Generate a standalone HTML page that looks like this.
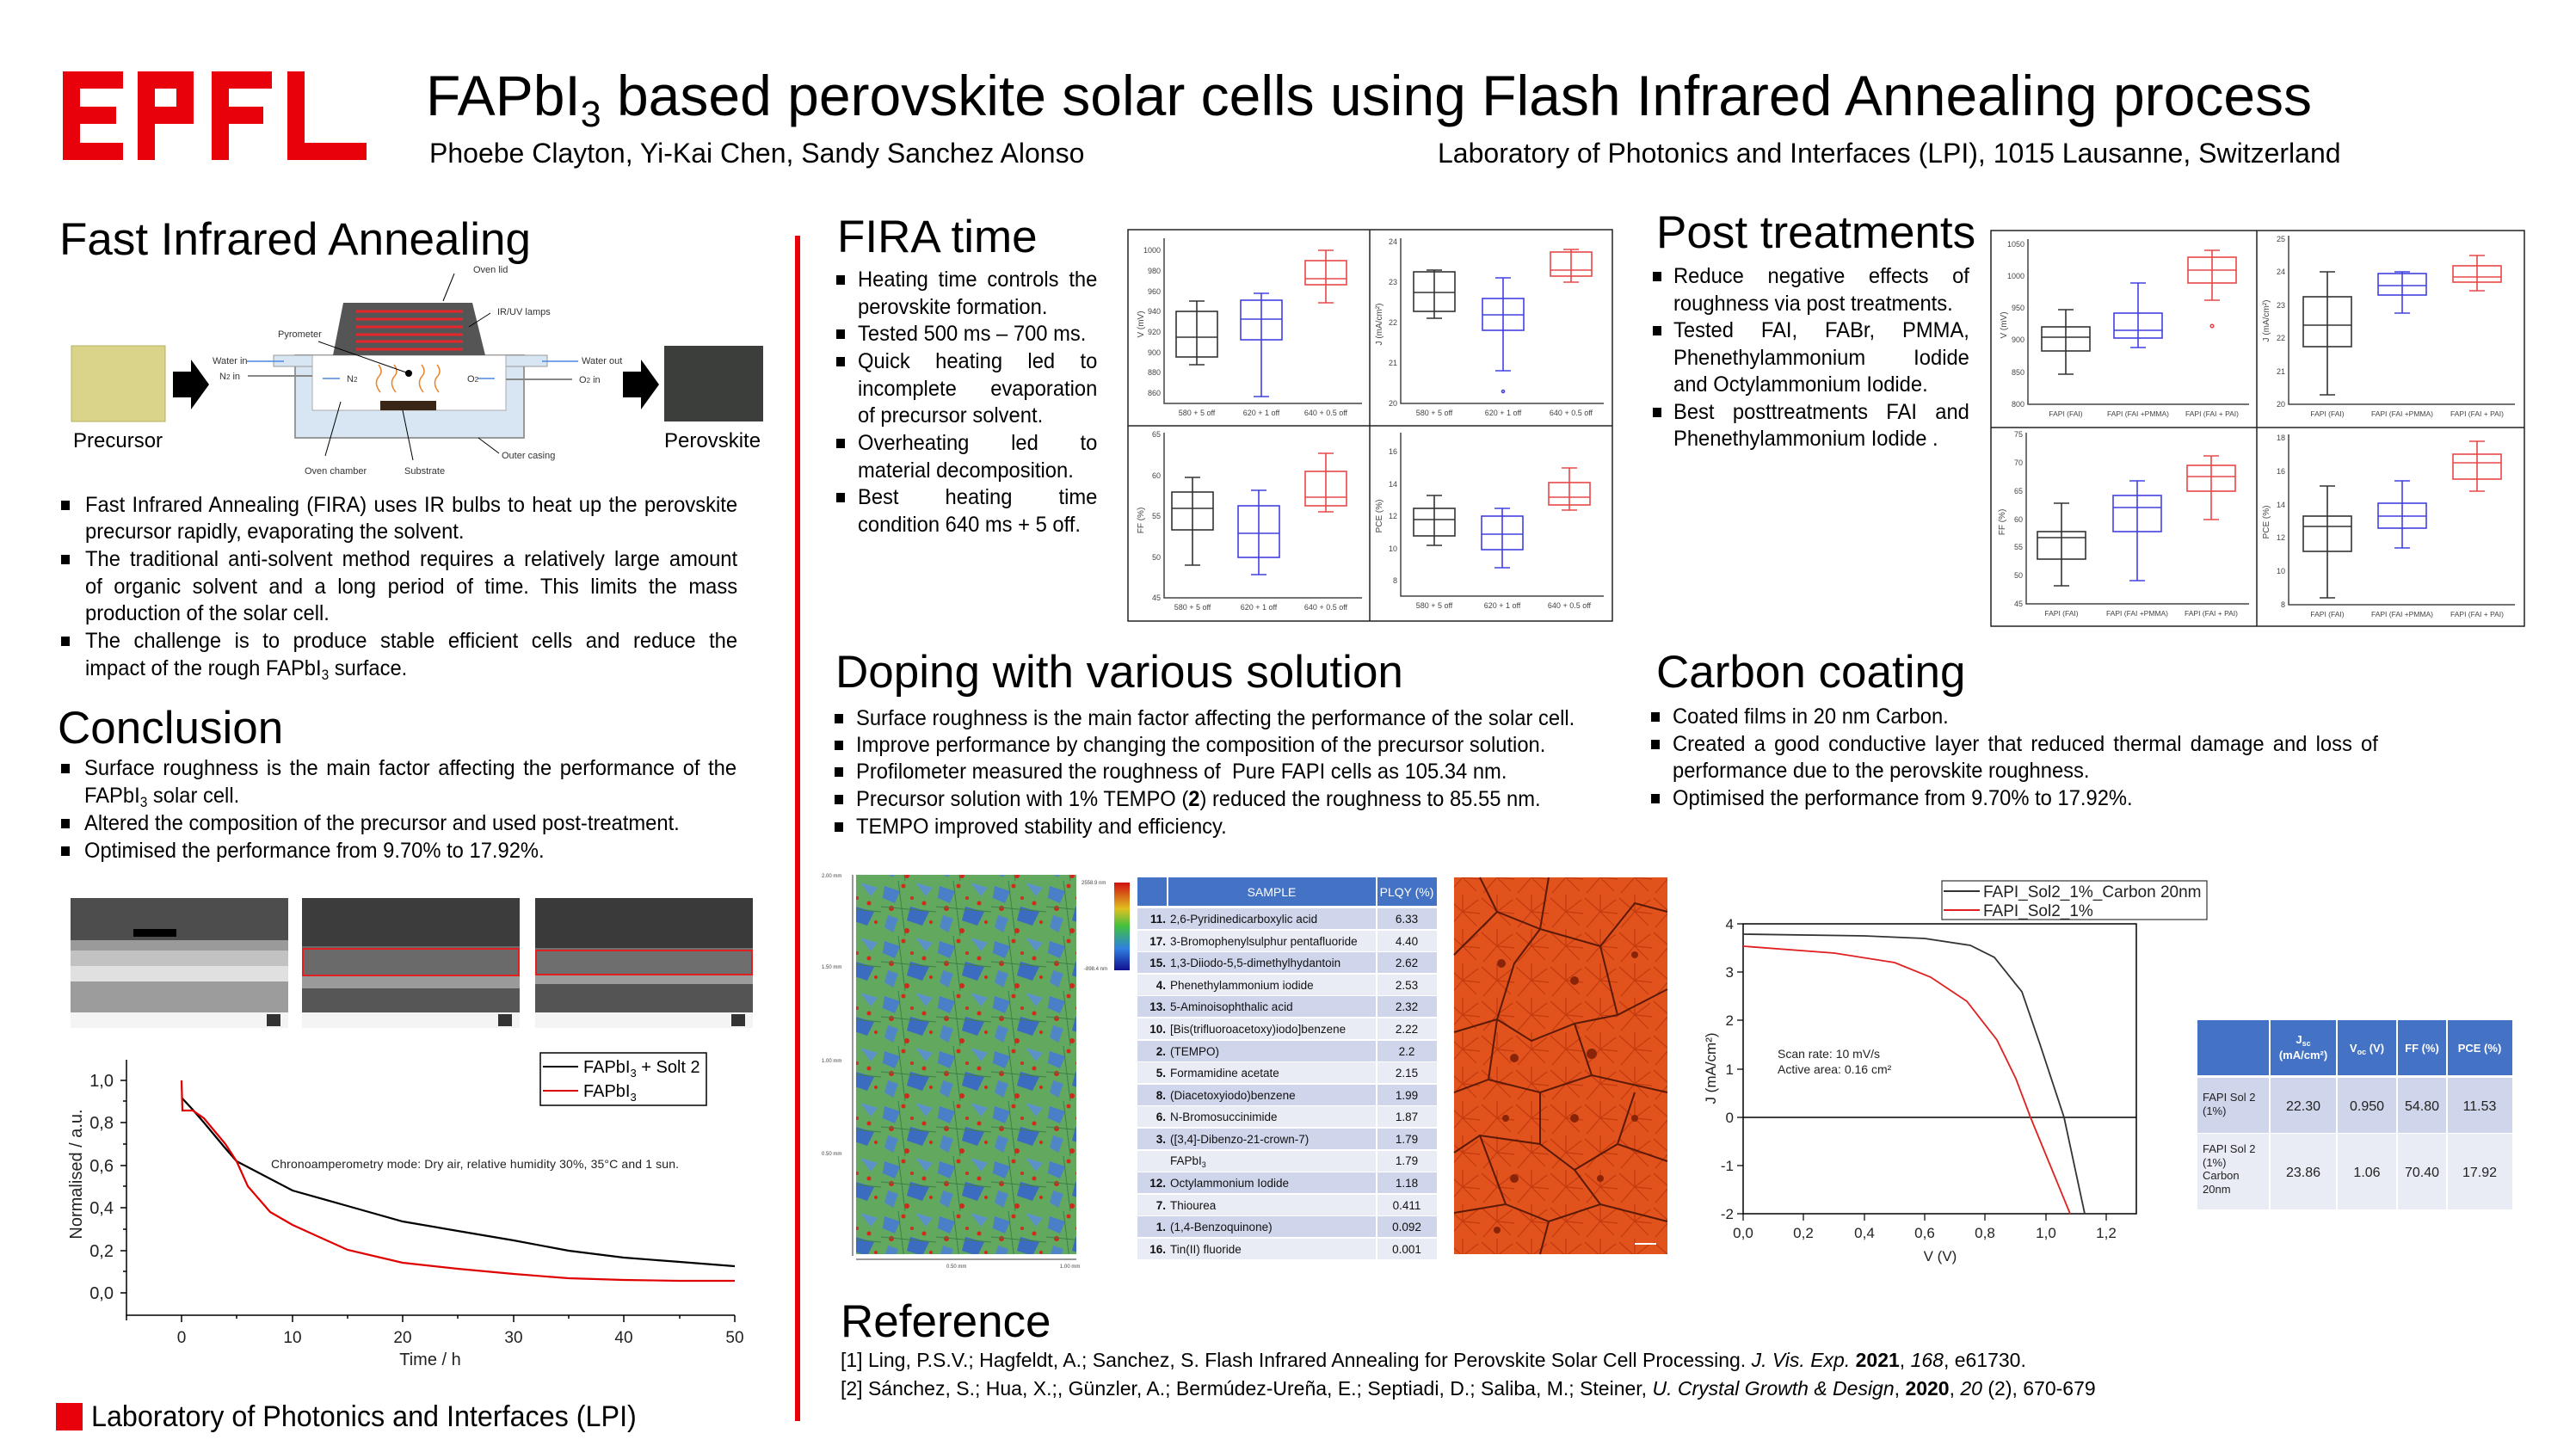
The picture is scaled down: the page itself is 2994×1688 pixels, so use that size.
<!DOCTYPE html>
<html><head><meta charset="utf-8">
<style>
html,body{margin:0;padding:0;background:#fff;}
body{width:2994px;height:1688px;position:relative;overflow:hidden;font-family:"Liberation Sans",Arial,sans-serif;color:#000;}
.h{position:absolute;font-size:53px;line-height:1;white-space:nowrap;font-family:"Liberation Sans",sans-serif;}
.l{position:absolute;white-space:nowrap;font-size:25px;line-height:30px;height:30px;transform:scaleX(.95);transform-origin:0 0;font-family:"Liberation Sans",sans-serif;}
.j{text-align:justify;text-align-last:justify;}
.b{position:absolute;width:10px;height:11px;background:#000;}
sub{font-size:65%;vertical-align:-0.3em;line-height:0;}
svg{position:absolute;left:0;top:0;}
</style></head><body>
<svg width="2994" height="1688" viewBox="0 0 2994 1688" font-family="Liberation Sans, sans-serif">
<defs>
<linearGradient id="cb" x1="0" y1="0" x2="0" y2="1">
<stop offset="0" stop-color="#d01010"/><stop offset=".3" stop-color="#e0c020"/><stop offset=".5" stop-color="#40c040"/><stop offset=".75" stop-color="#3080e0"/><stop offset="1" stop-color="#101090"/></linearGradient>
<pattern id="afm" width="64" height="64" patternUnits="userSpaceOnUse">
<rect width="64" height="64" fill="#62a85e"/>
<polygon points="4,6 22,12 16,26 2,20" fill="#4a7fc8"/>
<polygon points="34,30 56,36 48,52 30,46" fill="#3c6cc0"/>
<polygon points="40,2 60,8 52,18" fill="#5b93c9"/>
<polygon points="8,40 20,44 14,60 4,54" fill="#4f86c6"/>
<circle cx="26" cy="6" r="2.5" fill="#d42a1a"/><circle cx="12" cy="32" r="3" fill="#cc2a1a"/>
<circle cx="50" cy="26" r="2.5" fill="#d42a1a"/><circle cx="30" cy="58" r="3" fill="#cc2a1a"/>
<circle cx="58" cy="48" r="2" fill="#d42a1a"/><circle cx="36" cy="20" r="2" fill="#c83020"/>
<path d="M0 30 L64 36 M20 0 L28 64" stroke="#3f7f48" stroke-width="1" fill="none"/>
</pattern>
<pattern id="org" width="40" height="40" patternUnits="userSpaceOnUse">
<rect width="40" height="40" fill="#e2521c"/>
<path d="M20 20 L2 4 M20 20 L38 6 M20 20 L36 36 M20 20 L4 38 M20 20 L20 0 M20 20 L40 22" stroke="#c23a10" stroke-width="1.2"/>
</pattern>
</defs>

<g fill="#e8000b">
<rect x="73" y="83" width="70" height="20"/><rect x="73" y="83" width="20" height="103"/><rect x="73" y="124" width="62" height="20"/><rect x="73" y="166" width="70" height="20"/>
<rect x="160" y="83" width="20" height="103"/><path d="M160 83 H225 V144 H160 V124 H205 V103 H160Z"/>
<rect x="246" y="83" width="20" height="103"/><rect x="246" y="83" width="70" height="20"/><rect x="246" y="124" width="60" height="20"/>
<rect x="334" y="83" width="20" height="103"/><rect x="334" y="166" width="92" height="20"/>
</g>

<rect x="924" y="274" width="6" height="1378" fill="#e8000b"/>
<rect x="65" y="1631" width="31" height="32" fill="#e8000b"/>

<rect x="83" y="402" width="109" height="88" fill="#d9d48a" stroke="#b8b060"/>
<rect x="772" y="402" width="115" height="88" fill="#3b3e3b"/>
<path d="M201 432 H222 V418 L243 447 L222 476 V462 H201Z" fill="#000"/>
<path d="M724 432 H745 V418 L766 447 L745 476 V462 H724Z" fill="#000"/>
<rect x="343" y="413" width="266" height="96" fill="#d8e6f4" stroke="#999" stroke-width="2"/>
<rect x="318" y="413" width="45" height="13" fill="#d8e6f4" stroke="#999"/>
<rect x="588" y="413" width="48" height="13" fill="#d8e6f4" stroke="#999"/>
<rect x="363" y="413" width="225" height="64" fill="#fff" stroke="#aaa"/>
<path d="M399 352 H549 L564 413 H387Z" fill="#555"/>
<g stroke="#e8262a" stroke-width="3"><line x1="414" y1="362" x2="538" y2="362"/><line x1="414" y1="371" x2="538" y2="371"/><line x1="414" y1="380" x2="538" y2="380"/><line x1="414" y1="389" x2="538" y2="389"/><line x1="414" y1="397" x2="538" y2="397"/><line x1="414" y1="406" x2="538" y2="406"/></g>
<rect x="442" y="466" width="65" height="11" fill="#3a2616"/>
<g stroke="#e8842a" stroke-width="1.5" fill="none"><path d="M440 424 q6 8 0 14 q-6 8 2 18"/><path d="M458 424 q6 8 0 14 q-6 8 2 18"/><path d="M490 424 q6 8 0 14 q-6 8 2 18"/><path d="M508 424 q6 8 0 14 q-6 8 2 18"/></g>
<circle cx="475" cy="434" r="4" fill="#000"/>
<line x1="370" y1="397" x2="475" y2="434" stroke="#000"/>
<g stroke="#4a88e0" stroke-width="1.5"><line x1="287" y1="420" x2="330" y2="420"/><line x1="630" y1="420" x2="672" y2="420"/><line x1="375" y1="440" x2="395" y2="440"/><line x1="555" y1="440" x2="575" y2="440"/></g>
<g stroke="#888" stroke-width="2"><line x1="288" y1="437" x2="363" y2="437"/><line x1="588" y1="441" x2="665" y2="441"/></g>
<g stroke="#000"><line x1="528" y1="318" x2="515" y2="350"/><line x1="570" y1="364" x2="545" y2="380"/><line x1="396" y1="467" x2="378" y2="530"/><line x1="468" y1="477" x2="480" y2="535"/><line x1="556" y1="509" x2="580" y2="527"/></g>
<g font-size="11" fill="#333">
<text x="550" y="317">Oven lid</text><text x="578" y="366">IR/UV lamps</text><text x="323" y="392">Pyrometer</text>
<text x="247" y="423">Water in</text><text x="255" y="441">N<tspan font-size="8">2</tspan> in</text>
<text x="676" y="423">Water out</text><text x="673" y="445">O<tspan font-size="8">2</tspan> in</text>
<text x="403" y="444">N<tspan font-size="8">2</tspan></text><text x="543" y="444">O<tspan font-size="8">2</tspan></text>
<text x="583" y="533">Outer casing</text><text x="354" y="551">Oven chamber</text><text x="470" y="551">Substrate</text>
</g>
<text x="85" y="520" font-size="24">Precursor</text>
<text x="772" y="520" font-size="24">Perovskite</text>

<g>
<rect x="82" y="1044" width="253" height="151" fill="#4d4d4d"/>
<rect x="82" y="1093" width="253" height="12" fill="#9a9a9a"/>
<rect x="82" y="1105" width="253" height="18" fill="#c2c2c2"/>
<rect x="82" y="1123" width="253" height="18" fill="#e0e0e0"/>
<rect x="82" y="1141" width="253" height="36" fill="#9c9c9c"/>
<rect x="82" y="1177" width="253" height="18" fill="#f4f4f4"/>
<rect x="155" y="1080" width="50" height="9" fill="#000"/>
<rect x="351" y="1044" width="253" height="151" fill="#3c3c3c"/>
<rect x="351" y="1100" width="253" height="35" fill="#6a6a6a"/>
<rect x="351" y="1135" width="253" height="14" fill="#9a9a9a"/>
<rect x="351" y="1149" width="253" height="28" fill="#565656"/>
<rect x="351" y="1177" width="253" height="18" fill="#f4f4f4"/>
<rect x="352" y="1103" width="251" height="31" fill="none" stroke="#e02020" stroke-width="2"/>
<rect x="622" y="1044" width="253" height="151" fill="#3a3a3a"/>
<rect x="622" y="1102" width="253" height="32" fill="#6e6e6e"/>
<rect x="622" y="1134" width="253" height="10" fill="#9c9c9c"/>
<rect x="622" y="1144" width="253" height="33" fill="#545454"/>
<rect x="622" y="1177" width="253" height="18" fill="#f4f4f4"/>
<rect x="623" y="1105" width="251" height="28" fill="none" stroke="#e02020" stroke-width="2"/>
<g fill="#333"><rect x="310" y="1179" width="16" height="14"/><rect x="579" y="1179" width="16" height="14"/><rect x="850" y="1179" width="16" height="14"/></g>
</g>

<g stroke="#000" stroke-width="1.5" fill="none">
<path d="M147 1232 V1529 H854"/>
<path d="M140 1256 H147 M140 1305 H147 M140 1355 H147 M140 1404 H147 M140 1454 H147 M140 1503 H147 M143 1280 H147 M143 1330 H147 M143 1379 H147 M143 1429 H147 M143 1478 H147"/>
<path d="M211 1529 V1537 M340 1529 V1537 M468 1529 V1537 M597 1529 V1537 M725 1529 V1537 M854 1529 V1537 M147 1529 V1535 M275 1529 V1533 M404 1529 V1533 M532 1529 V1533 M661 1529 V1533 M790 1529 V1533"/>
</g>
<polyline fill="none" stroke="#000" stroke-width="2.2" points="211,1276 224,1290 237,1305 262,1335 275,1350 340,1384 404,1402 468,1420 532,1431 597,1442 661,1454 725,1462 790,1467 854,1472"/>
<polyline fill="none" stroke="#e00000" stroke-width="2.2" points="211,1256 212,1291 224,1291 237,1300 262,1330 275,1350 288,1379 314,1409 340,1424 404,1453 468,1468 532,1475 597,1481 661,1486 725,1488 790,1489 854,1489"/>
<g font-size="20" fill="#222" text-anchor="end">
<text x="132" y="1263">1,0</text><text x="132" y="1312">0,8</text><text x="132" y="1362">0,6</text><text x="132" y="1411">0,4</text><text x="132" y="1461">0,2</text><text x="132" y="1510">0,0</text></g>
<g font-size="19" fill="#222" text-anchor="middle">
<text x="211" y="1561">0</text><text x="340" y="1561">10</text><text x="468" y="1561">20</text><text x="597" y="1561">30</text><text x="725" y="1561">40</text><text x="854" y="1561">50</text>
<text x="500" y="1587" font-size="20">Time / h</text></g>
<text transform="translate(95,1365) rotate(-90)" font-size="20" text-anchor="middle" fill="#222">Normalised / a.u.</text>
<text x="315" y="1358" font-size="14" fill="#222" textLength="474">Chronoamperometry mode: Dry air, relative humidity 30%, 35°C and 1 sun.</text>
<rect x="628" y="1224" width="193" height="61" fill="#fff" stroke="#000" stroke-width="1.5"/>
<line x1="631" y1="1240" x2="672" y2="1240" stroke="#000" stroke-width="2"/>
<line x1="631" y1="1268" x2="672" y2="1268" stroke="#e00000" stroke-width="2"/>
<text x="678" y="1247" font-size="20">FAPbI<tspan font-size="13" dy="5">3</tspan><tspan dy="-5"> + Solt 2</tspan></text>
<text x="678" y="1275" font-size="20">FAPbI<tspan font-size="13" dy="5">3</tspan></text>

<g fill="none" stroke="#222" stroke-width="1.5">
<rect x="1311" y="267" width="563" height="455"/>
<line x1="1592" y1="267" x2="1592" y2="722"/><line x1="1311" y1="495" x2="1874" y2="495"/>
</g>
<g transform="translate(1311,267)">
<path d="M42 10 V202 H272" fill="none" stroke="#444" stroke-width="1.5"/>
<g font-size="9" fill="#444" text-anchor="end"><text x="38" y="27">1000</text><text x="38" y="51">980</text><text x="38" y="75">960</text><text x="38" y="98">940</text><text x="38" y="122">920</text><text x="38" y="146">900</text><text x="38" y="169">880</text><text x="38" y="193">860</text></g>
<g font-size="9" fill="#444" text-anchor="middle"><text x="80" y="216">580 + 5 off</text><text x="155" y="216">620 + 1 off</text><text x="230" y="216">640 + 0.5 off</text></g>
<text transform="translate(18,110) rotate(-90)" font-size="10" fill="#444" text-anchor="middle">V (mV)</text>
<g fill="none" stroke-width="1.6">
<g stroke="#333"><path d="M80 83 V157 M71 83 H89 M71 157 H89 M56 125 H104"/><rect x="56" y="95" width="48" height="53"/></g>
<g stroke="#4040e0"><path d="M155 74 V194 M146 74 H164 M146 194 H164 M131 104 H179"/><rect x="131" y="82" width="48" height="46"/></g>
<g stroke="#e84848"><path d="M230 24 V85 M221 24 H239 M221 85 H239 M206 57 H254"/><rect x="206" y="36" width="48" height="28"/></g>
</g></g>
<g transform="translate(1592,267)">
<path d="M36 10 V202 H272" fill="none" stroke="#444" stroke-width="1.5"/>
<g font-size="9" fill="#444" text-anchor="end"><text x="32" y="17">24</text><text x="32" y="64">23</text><text x="32" y="111">22</text><text x="32" y="158">21</text><text x="32" y="205">20</text></g>
<g font-size="9" fill="#444" text-anchor="middle"><text x="75" y="216">580 + 5 off</text><text x="155" y="216">620 + 1 off</text><text x="234" y="216">640 + 0.5 off</text></g>
<text transform="translate(14,110) rotate(-90)" font-size="10" fill="#444" text-anchor="middle">J (mA/cm²)</text>
<g fill="none" stroke-width="1.6">
<g stroke="#333"><path d="M75 47 V103 M66 47 H84 M66 103 H84 M51 73 H99"/><rect x="51" y="49" width="48" height="46"/></g>
<g stroke="#4040e0"><path d="M155 56 V164 M146 56 H164 M146 164 H164 M131 99 H179"/><rect x="131" y="80" width="48" height="37"/><circle cx="155" cy="188" r="1.5"/></g>
<g stroke="#e84848"><path d="M234 23 V61 M225 23 H243 M225 61 H243 M210 47 H258"/><rect x="210" y="26" width="48" height="28"/></g>
</g></g>
<g transform="translate(1311,495)">
<path d="M42 8 V200 H272" fill="none" stroke="#444" stroke-width="1.5"/>
<g font-size="9" fill="#444" text-anchor="end"><text x="38" y="13">65</text><text x="38" y="61">60</text><text x="38" y="108">55</text><text x="38" y="156">50</text><text x="38" y="203">45</text></g>
<g font-size="9" fill="#444" text-anchor="middle"><text x="75" y="214">580 + 5 off</text><text x="152" y="214">620 + 1 off</text><text x="230" y="214">640 + 0.5 off</text></g>
<text transform="translate(18,110) rotate(-90)" font-size="10" fill="#444" text-anchor="middle">FF (%)</text>
<g fill="none" stroke-width="1.6">
<g stroke="#333"><path d="M75 60 V162 M66 60 H84 M66 162 H84 M51 96 H99"/><rect x="51" y="77" width="48" height="44"/></g>
<g stroke="#4040e0"><path d="M152 75 V173 M143 75 H161 M143 173 H161 M128 125 H176"/><rect x="128" y="93" width="48" height="60"/></g>
<g stroke="#e84848"><path d="M230 32 V100 M221 32 H239 M221 100 H239 M206 83 H254"/><rect x="206" y="53" width="48" height="40"/></g>
</g></g>
<g transform="translate(1592,495)">
<path d="M36 8 V198 H272" fill="none" stroke="#444" stroke-width="1.5"/>
<g font-size="9" fill="#444" text-anchor="end"><text x="32" y="33">16</text><text x="32" y="71">14</text><text x="32" y="108">12</text><text x="32" y="146">10</text><text x="32" y="183">8</text></g>
<g font-size="9" fill="#444" text-anchor="middle"><text x="75" y="212">580 + 5 off</text><text x="154" y="212">620 + 1 off</text><text x="232" y="212">640 + 0.5 off</text></g>
<text transform="translate(14,105) rotate(-90)" font-size="10" fill="#444" text-anchor="middle">PCE (%)</text>
<g fill="none" stroke-width="1.6">
<g stroke="#333"><path d="M75 81 V139 M66 81 H84 M66 139 H84 M51 109 H99"/><rect x="51" y="96" width="48" height="32"/></g>
<g stroke="#4040e0"><path d="M154 96 V165 M145 96 H163 M145 165 H163 M130 126 H178"/><rect x="130" y="105" width="48" height="39"/></g>
<g stroke="#e84848"><path d="M232 49 V98 M223 49 H241 M223 98 H241 M208 83 H256"/><rect x="208" y="66" width="48" height="26"/></g>
</g></g>

<g fill="none" stroke="#222" stroke-width="1.5">
<rect x="2314" y="268" width="620" height="460"/>
<line x1="2623" y1="268" x2="2623" y2="728"/><line x1="2314" y1="497" x2="2934" y2="497"/>
</g>
<g transform="translate(2314,268)">
<path d="M43 10 V202 H300" fill="none" stroke="#444" stroke-width="1.5"/>
<g font-size="9" fill="#444" text-anchor="end"><text x="39" y="19">1050</text><text x="39" y="56">1000</text><text x="39" y="93">950</text><text x="39" y="130">900</text><text x="39" y="168">850</text><text x="39" y="205">800</text></g>
<g font-size="8.5" fill="#444" text-anchor="middle"><text x="87" y="216">FAPI (FAI)</text><text x="171" y="216">FAPI (FAI +PMMA)</text><text x="257" y="216">FAPI (FAI + PAI)</text></g>
<text transform="translate(18,110) rotate(-90)" font-size="10" fill="#444" text-anchor="middle">V (mV)</text>
<g fill="none" stroke-width="1.6">
<g stroke="#333"><path d="M87 92 V167 M78 92 H96 M78 167 H96 M59 124 H115"/><rect x="59" y="112" width="56" height="28"/></g>
<g stroke="#4040e0"><path d="M171 61 V136 M162 61 H180 M162 136 H180 M143 116 H199"/><rect x="143" y="96" width="56" height="29"/></g>
<g stroke="#e84848"><path d="M257 23 V81 M248 23 H266 M248 81 H266 M229 46 H285"/><rect x="229" y="31" width="56" height="30"/><circle cx="257" cy="111" r="1.8"/></g>
</g></g>
<g transform="translate(2623,268)">
<path d="M37 6 V202 H300" fill="none" stroke="#444" stroke-width="1.5"/>
<g font-size="9" fill="#444" text-anchor="end"><text x="33" y="13">25</text><text x="33" y="51">24</text><text x="33" y="90">23</text><text x="33" y="128">22</text><text x="33" y="167">21</text><text x="33" y="205">20</text></g>
<g font-size="8.5" fill="#444" text-anchor="middle"><text x="82" y="216">FAPI (FAI)</text><text x="169" y="216">FAPI (FAI +PMMA)</text><text x="256" y="216">FAPI (FAI + PAI)</text></g>
<text transform="translate(14,105) rotate(-90)" font-size="10" fill="#444" text-anchor="middle">J (mA/cm²)</text>
<g fill="none" stroke-width="1.6">
<g stroke="#333"><path d="M82 48 V191 M73 48 H91 M73 191 H91 M54 110 H110"/><rect x="54" y="77" width="56" height="58"/></g>
<g stroke="#4040e0"><path d="M169 48 V96 M160 48 H178 M160 96 H178 M141 64 H197"/><rect x="141" y="50" width="56" height="25"/></g>
<g stroke="#e84848"><path d="M256 29 V70 M247 29 H265 M247 70 H265 M228 54 H284"/><rect x="228" y="41" width="56" height="19"/></g>
</g></g>
<g transform="translate(2314,497)">
<path d="M41 6 V205 H300" fill="none" stroke="#444" stroke-width="1.5"/>
<g font-size="9" fill="#444" text-anchor="end"><text x="37" y="11">75</text><text x="37" y="44">70</text><text x="37" y="77">65</text><text x="37" y="110">60</text><text x="37" y="142">55</text><text x="37" y="175">50</text><text x="37" y="208">45</text></g>
<g font-size="8.5" fill="#444" text-anchor="middle"><text x="82" y="219">FAPI (FAI)</text><text x="170" y="219">FAPI (FAI +PMMA)</text><text x="256" y="219">FAPI (FAI + PAI)</text></g>
<text transform="translate(16,110) rotate(-90)" font-size="10" fill="#444" text-anchor="middle">FF (%)</text>
<g fill="none" stroke-width="1.6">
<g stroke="#333"><path d="M82 88 V184 M73 88 H91 M73 184 H91 M54 128 H110"/><rect x="54" y="121" width="56" height="32"/></g>
<g stroke="#4040e0"><path d="M170 62 V178 M161 62 H179 M161 178 H179 M142 93 H198"/><rect x="142" y="79" width="56" height="42"/></g>
<g stroke="#e84848"><path d="M256 33 V107 M247 33 H265 M247 107 H265 M228 57 H284"/><rect x="228" y="44" width="56" height="30"/></g>
</g></g>
<g transform="translate(2623,497)">
<path d="M37 8 V206 H300" fill="none" stroke="#444" stroke-width="1.5"/>
<g font-size="9" fill="#444" text-anchor="end"><text x="33" y="15">18</text><text x="33" y="54">16</text><text x="33" y="93">14</text><text x="33" y="131">12</text><text x="33" y="170">10</text><text x="33" y="209">8</text></g>
<g font-size="8.5" fill="#444" text-anchor="middle"><text x="82" y="220">FAPI (FAI)</text><text x="169" y="220">FAPI (FAI +PMMA)</text><text x="256" y="220">FAPI (FAI + PAI)</text></g>
<text transform="translate(14,110) rotate(-90)" font-size="10" fill="#444" text-anchor="middle">PCE (%)</text>
<g fill="none" stroke-width="1.6">
<g stroke="#333"><path d="M82 68 V198 M73 68 H91 M73 198 H91 M54 115 H110"/><rect x="54" y="103" width="56" height="41"/></g>
<g stroke="#4040e0"><path d="M169 62 V140 M160 62 H178 M160 140 H178 M141 103 H197"/><rect x="141" y="88" width="56" height="29"/></g>
<g stroke="#e84848"><path d="M256 16 V74 M247 16 H265 M247 74 H265 M228 41 H284"/><rect x="228" y="31" width="56" height="29"/></g>
</g></g>

<rect x="995" y="1017" width="256" height="441" fill="url(#afm)"/>
<g stroke="#333" stroke-width="1"><path d="M991 1017 V1460 M995 1464 H1251"/></g>
<g font-size="6" fill="#444"><text x="955" y="1020">2.00 mm</text><text x="955" y="1126">1.50 mm</text><text x="955" y="1235">1.00 mm</text><text x="955" y="1343">0.50 mm</text><text x="1100" y="1474">0.50 mm</text><text x="1232" y="1474">1.00 mm</text><text x="1257" y="1028">2558.9 nm</text><text x="1260" y="1128">-898.4 nm</text></g>
<rect x="1295" y="1026" width="18" height="102" fill="url(#cb)"/>

<rect x="1322" y="1020" width="348" height="33" fill="#4472c4"/>
<line x1="1357" y1="1020" x2="1357" y2="1053" stroke="#fff" stroke-width="2"/>
<line x1="1600" y1="1020" x2="1600" y2="1053" stroke="#fff" stroke-width="2"/>
<text x="1478" y="1042" font-size="14" fill="#fff" text-anchor="middle">SAMPLE</text>
<text x="1635" y="1042" font-size="14" fill="#fff" text-anchor="middle">PLQY (%)</text>
<g>
<rect x="1322" y="1056" width="348" height="24" fill="#cfd5ea"/>
<rect x="1322" y="1082" width="348" height="24" fill="#e9ebf5"/>
<rect x="1322" y="1107" width="348" height="24" fill="#cfd5ea"/>
<rect x="1322" y="1133" width="348" height="24" fill="#e9ebf5"/>
<rect x="1322" y="1158" width="348" height="24" fill="#cfd5ea"/>
<rect x="1322" y="1184" width="348" height="24" fill="#e9ebf5"/>
<rect x="1322" y="1210" width="348" height="24" fill="#cfd5ea"/>
<rect x="1322" y="1235" width="348" height="24" fill="#e9ebf5"/>
<rect x="1322" y="1261" width="348" height="24" fill="#cfd5ea"/>
<rect x="1322" y="1286" width="348" height="24" fill="#e9ebf5"/>
<rect x="1322" y="1312" width="348" height="24" fill="#cfd5ea"/>
<rect x="1322" y="1338" width="348" height="24" fill="#e9ebf5"/>
<rect x="1322" y="1363" width="348" height="24" fill="#cfd5ea"/>
<rect x="1322" y="1389" width="348" height="24" fill="#e9ebf5"/>
<rect x="1322" y="1414" width="348" height="24" fill="#cfd5ea"/>
<rect x="1322" y="1440" width="348" height="24" fill="#e9ebf5"/>
<line x1="1600" y1="1056" x2="1600" y2="1464" stroke="#fff" stroke-width="2"/>
</g>
<g font-size="13.5" fill="#111">
<g font-weight="bold" text-anchor="end"><text x="1355" y="1073">11.</text><text x="1355" y="1099">17.</text><text x="1355" y="1124">15.</text><text x="1355" y="1150">4.</text><text x="1355" y="1175">13.</text><text x="1355" y="1201">10.</text><text x="1355" y="1227">2.</text><text x="1355" y="1252">5.</text><text x="1355" y="1278">8.</text><text x="1355" y="1303">6.</text><text x="1355" y="1329">3.</text><text x="1355" y="1380">12.</text><text x="1355" y="1406">7.</text><text x="1355" y="1431">1.</text><text x="1355" y="1457">16.</text></g>
<g><text x="1360" y="1073">2,6-Pyridinedicarboxylic acid</text><text x="1360" y="1099">3-Bromophenylsulphur pentafluoride</text><text x="1360" y="1124">1,3-Diiodo-5,5-dimethylhydantoin</text><text x="1360" y="1150">Phenethylammonium iodide</text><text x="1360" y="1175">5-Aminoisophthalic acid</text><text x="1360" y="1201">[Bis(trifluoroacetoxy)iodo]benzene</text><text x="1360" y="1227">(TEMPO)</text><text x="1360" y="1252">Formamidine acetate</text><text x="1360" y="1278">(Diacetoxyiodo)benzene</text><text x="1360" y="1303">N-Bromosuccinimide</text><text x="1360" y="1329">([3,4]-Dibenzo-21-crown-7)</text><text x="1360" y="1354">FAPbI<tspan font-size="9" dy="3">3</tspan></text><text x="1360" y="1380">Octylammonium Iodide</text><text x="1360" y="1406">Thiourea</text><text x="1360" y="1431">(1,4-Benzoquinone)</text><text x="1360" y="1457">Tin(II) fluoride</text></g>
<g text-anchor="middle"><text x="1635" y="1073">6.33</text><text x="1635" y="1099">4.40</text><text x="1635" y="1124">2.62</text><text x="1635" y="1150">2.53</text><text x="1635" y="1175">2.32</text><text x="1635" y="1201">2.22</text><text x="1635" y="1227">2.2</text><text x="1635" y="1252">2.15</text><text x="1635" y="1278">1.99</text><text x="1635" y="1303">1.87</text><text x="1635" y="1329">1.79</text><text x="1635" y="1354">1.79</text><text x="1635" y="1380">1.18</text><text x="1635" y="1406">0.411</text><text x="1635" y="1431">0.092</text><text x="1635" y="1457">0.001</text></g>
</g>

<rect x="1690" y="1020" width="248" height="438" fill="url(#org)"/>
<g fill="none" stroke="#5a1a06" stroke-width="2">
<path d="M1690 1110 L1740 1060 L1790 1080 L1800 1020 M1790 1080 L1860 1100 L1900 1050 L1938 1060 M1740 1060 L1720 1020"/>
<path d="M1690 1200 L1740 1185 L1780 1210 L1830 1190 L1880 1180 L1938 1150 M1740 1185 L1760 1120 L1790 1080 M1860 1100 L1880 1180"/>
<path d="M1690 1270 L1730 1255 L1790 1270 L1850 1250 L1938 1270 M1730 1255 L1740 1185 M1850 1250 L1830 1190"/>
<path d="M1690 1340 L1720 1320 L1790 1330 L1830 1360 L1880 1330 L1938 1350 M1790 1330 L1790 1270 M1880 1330 L1900 1270"/>
<path d="M1690 1410 L1750 1400 L1800 1420 L1860 1400 L1938 1420 M1750 1400 L1720 1320 M1860 1400 L1830 1360 M1800 1420 L1790 1458"/>
</g>
<g fill="#8a2408"><circle cx="1745" cy="1120" r="5"/><circle cx="1830" cy="1140" r="5"/><circle cx="1900" cy="1110" r="4"/><circle cx="1760" cy="1230" r="5"/><circle cx="1850" cy="1225" r="6"/><circle cx="1750" cy="1300" r="4"/><circle cx="1830" cy="1300" r="5"/><circle cx="1900" cy="1300" r="4"/><circle cx="1760" cy="1370" r="5"/><circle cx="1860" cy="1370" r="4"/><circle cx="1740" cy="1430" r="4"/></g>
<line x1="1900" y1="1446" x2="1925" y2="1446" stroke="#fff" stroke-width="2"/>

<rect x="2026" y="1074" width="457" height="337" fill="none" stroke="#000" stroke-width="1.5"/>
<line x1="2026" y1="1299" x2="2483" y2="1299" stroke="#000" stroke-width="1.5"/>
<g stroke="#000" stroke-width="1.2"><path d="M2026 1411 V1419 M2096 1411 V1419 M2167 1411 V1419 M2237 1411 V1419 M2307 1411 V1419 M2378 1411 V1419 M2448 1411 V1419 M2019 1074 H2026 M2019 1130 H2026 M2019 1186 H2026 M2019 1243 H2026 M2019 1299 H2026 M2019 1355 H2026 M2019 1411 H2026"/></g>
<polyline fill="none" stroke="#333" stroke-width="1.8" points="2026,1086 2167,1088 2237,1091 2290,1099 2318,1113 2350,1153 2371,1214 2399,1299 2423,1411"/>
<polyline fill="none" stroke="#e02020" stroke-width="1.8" points="2026,1100 2132,1108 2202,1119 2244,1136 2286,1164 2321,1209 2343,1254 2360,1299 2406,1411"/>
<g font-size="17" fill="#222" text-anchor="end"><text x="2015" y="1080">4</text><text x="2015" y="1136">3</text><text x="2015" y="1192">2</text><text x="2015" y="1249">1</text><text x="2015" y="1305">0</text><text x="2015" y="1361">-1</text><text x="2015" y="1417">-2</text></g>
<g font-size="17" fill="#222" text-anchor="middle"><text x="2026" y="1439">0,0</text><text x="2096" y="1439">0,2</text><text x="2167" y="1439">0,4</text><text x="2237" y="1439">0,6</text><text x="2307" y="1439">0,8</text><text x="2378" y="1439">1,0</text><text x="2448" y="1439">1,2</text><text x="2255" y="1466">V (V)</text></g>
<text transform="translate(1994,1242) rotate(-90)" font-size="17" text-anchor="middle" fill="#222">J (mA/cm²)</text>
<text x="2066" y="1230" font-size="14" fill="#222">Scan rate: 10 mV/s</text>
<text x="2066" y="1248" font-size="14" fill="#222">Active area: 0.16 cm²</text>
<rect x="2257" y="1024" width="308" height="45" fill="#fff" stroke="#333" stroke-width="1.2"/>
<line x1="2259" y1="1036" x2="2301" y2="1036" stroke="#333" stroke-width="2"/>
<line x1="2259" y1="1058" x2="2301" y2="1058" stroke="#e02020" stroke-width="2"/>
<text x="2305" y="1043" font-size="19" fill="#222">FAPI_Sol2_1%_Carbon 20nm</text>
<text x="2305" y="1065" font-size="19" fill="#222">FAPI_Sol2_1%</text>

<rect x="2554" y="1186" width="366" height="64" fill="#4472c4"/>
<rect x="2554" y="1253" width="366" height="64" fill="#cfd5ea"/>
<rect x="2554" y="1318" width="366" height="88" fill="#e9ebf5"/>
<g stroke="#fff" stroke-width="2"><line x1="2638" y1="1186" x2="2638" y2="1406"/><line x1="2716" y1="1186" x2="2716" y2="1406"/><line x1="2786" y1="1186" x2="2786" y2="1406"/><line x1="2844" y1="1186" x2="2844" y2="1406"/></g>
<g font-size="13" fill="#fff" font-weight="bold" text-anchor="middle">
<text x="2677" y="1213">J<tspan font-size="9" dy="3">sc</tspan></text><text x="2677" y="1231">(mA/cm²)</text>
<text x="2751" y="1223">V<tspan font-size="9" dy="3">oc</tspan><tspan dy="-3"> (V)</tspan></text>
<text x="2815" y="1223">FF (%)</text><text x="2882" y="1223">PCE (%)</text></g>
<g font-size="13" fill="#222"><text x="2560" y="1280">FAPI Sol 2</text><text x="2560" y="1296">(1%)</text>
<text x="2560" y="1340">FAPI Sol 2</text><text x="2560" y="1356">(1%)</text><text x="2560" y="1371">Carbon</text><text x="2560" y="1387">20nm</text></g>
<g font-size="16" fill="#222" text-anchor="middle">
<text x="2677" y="1291">22.30</text><text x="2751" y="1291">0.950</text><text x="2815" y="1291">54.80</text><text x="2882" y="1291">11.53</text>
<text x="2677" y="1368">23.86</text><text x="2751" y="1368">1.06</text><text x="2815" y="1368">70.40</text><text x="2882" y="1368">17.92</text></g>
</svg>

<div class="h" style="left:495px;top:78px;font-size:66px;">FAPbI<sub>3</sub> based perovskite solar cells using Flash Infrared Annealing process</div>
<div class="l" style="left:499px;top:162px;font-size:32px;line-height:32px;transform:none;">Phoebe Clayton, Yi-Kai Chen, Sandy Sanchez Alonso</div>
<div class="l" style="left:1671px;top:162px;font-size:32px;line-height:32px;transform:none;">Laboratory of Photonics and Interfaces (LPI), 1015 Lausanne, Switzerland</div>

<div class="h" style="left:69px;top:252px;">Fast Infrared Annealing</div>
<div class="h" style="left:67px;top:820px;">Conclusion</div>
<div class="h" style="left:973px;top:249px;">FIRA time</div>
<div class="h" style="left:1925px;top:244px;">Post treatments</div>
<div class="h" style="left:971px;top:755px;">Doping with various solution</div>
<div class="h" style="left:1925px;top:755px;">Carbon coating</div>
<div class="h" style="left:977px;top:1510px;">Reference</div>

<div class="b" style="left:71px;top:582px"></div><div class="b" style="left:71px;top:645px"></div><div class="b" style="left:71px;top:740px"></div>
<div class="l j" style="left:99px;top:572px;width:798px">Fast Infrared Annealing (FIRA) uses IR bulbs to heat up the perovskite</div>
<div class="l" style="left:99px;top:603px;">precursor rapidly, evaporating the solvent.</div>
<div class="l j" style="left:99px;top:635px;width:798px">The traditional anti-solvent method requires a relatively large amount</div>
<div class="l j" style="left:99px;top:667px;width:798px">of organic solvent and a long period of time. This limits the mass</div>
<div class="l" style="left:99px;top:698px;">production of the solar cell.</div>
<div class="l j" style="left:99px;top:730px;width:798px">The challenge is to produce stable efficient cells and reduce the</div>
<div class="l" style="left:99px;top:762px;">impact of the rough FAPbI<sub>3</sub> surface.</div>

<div class="b" style="left:71px;top:888px"></div><div class="b" style="left:71px;top:952px"></div><div class="b" style="left:71px;top:984px"></div>
<div class="l j" style="left:98px;top:878px;width:798px">Surface roughness is the main factor affecting the performance of the</div>
<div class="l" style="left:98px;top:910px;">FAPbI<sub>3</sub> solar cell.</div>
<div class="l" style="left:98px;top:942px;">Altered the composition of the precursor and used post-treatment.</div>
<div class="l" style="left:98px;top:974px;">Optimised the performance from 9.70% to 17.92%.</div>

<div class="b" style="left:972px;top:320px"></div><div class="b" style="left:972px;top:383px"></div><div class="b" style="left:972px;top:415px"></div><div class="b" style="left:972px;top:510px"></div><div class="b" style="left:972px;top:573px"></div>
<div class="l j" style="left:997px;top:310px;width:293px">Heating time controls the</div>
<div class="l" style="left:997px;top:342px;">perovskite formation.</div>
<div class="l" style="left:997px;top:373px;">Tested 500 ms – 700 ms.</div>
<div class="l j" style="left:997px;top:405px;width:293px">Quick heating led to</div>
<div class="l j" style="left:997px;top:437px;width:293px">incomplete evaporation</div>
<div class="l" style="left:997px;top:468px;">of precursor solvent.</div>
<div class="l j" style="left:997px;top:500px;width:293px">Overheating led to</div>
<div class="l" style="left:997px;top:532px;">material decomposition.</div>
<div class="l j" style="left:997px;top:563px;width:293px">Best heating time</div>
<div class="l" style="left:997px;top:595px;">condition 640 ms + 5 off.</div>

<div class="b" style="left:1921px;top:316px"></div><div class="b" style="left:1921px;top:379px"></div><div class="b" style="left:1921px;top:474px"></div>
<div class="l j" style="left:1945px;top:306px;width:362px">Reduce negative effects of</div>
<div class="l" style="left:1945px;top:338px;">roughness via post treatments.</div>
<div class="l j" style="left:1945px;top:369px;width:362px">Tested FAI, FABr, PMMA,</div>
<div class="l j" style="left:1945px;top:401px;width:362px">Phenethylammonium Iodide</div>
<div class="l" style="left:1945px;top:432px;">and Octylammonium Iodide.</div>
<div class="l j" style="left:1945px;top:464px;width:362px">Best posttreatments FAI and</div>
<div class="l" style="left:1945px;top:495px;">Phenethylammonium Iodide .</div>

<div class="b" style="left:970px;top:830px"></div><div class="b" style="left:970px;top:861px"></div><div class="b" style="left:970px;top:892px"></div><div class="b" style="left:970px;top:924px"></div><div class="b" style="left:970px;top:956px"></div>
<div class="l" style="left:995px;top:820px;">Surface roughness is the main factor affecting the performance of the solar cell.</div>
<div class="l" style="left:995px;top:851px;">Improve performance by changing the composition of the precursor solution.</div>
<div class="l" style="left:995px;top:882px;">Profilometer measured the roughness of&nbsp; Pure FAPI cells as 105.34 nm.</div>
<div class="l" style="left:995px;top:914px;">Precursor solution with 1% TEMPO (<b>2</b>) reduced the roughness to 85.55 nm.</div>
<div class="l" style="left:995px;top:946px;">TEMPO improved stability and efficiency.</div>

<div class="b" style="left:1919px;top:828px"></div><div class="b" style="left:1919px;top:860px"></div><div class="b" style="left:1919px;top:923px"></div>
<div class="l" style="left:1944px;top:818px;">Coated films in 20 nm Carbon.</div>
<div class="l j" style="left:1944px;top:850px;width:863px">Created a good conductive layer that reduced thermal damage and loss of</div>
<div class="l" style="left:1944px;top:881px;">performance due to the perovskite roughness.</div>
<div class="l" style="left:1944px;top:913px;">Optimised the performance from 9.70% to 17.92%.</div>

<div class="l" style="left:977px;top:1567px;font-size:23px;line-height:28px;transform:none;">[1] Ling, P.S.V.; Hagfeldt, A.; Sanchez, S. Flash Infrared Annealing for Perovskite Solar Cell Processing. <i>J. Vis. Exp.</i> <b>2021</b>, <i>168</i>, e61730.</div>
<div class="l" style="left:977px;top:1600px;font-size:23px;line-height:28px;transform:none;">[2] Sánchez, S.; Hua, X.;, Günzler, A.; Bermúdez-Ureña, E.; Septiadi, D.; Saliba, M.; Steiner, <i>U. Crystal Growth &amp; Design</i>, <b>2020</b>, <i>20</i> (2), 670-679</div>

<div class="l" style="left:106px;top:1629px;font-size:34px;line-height:36px;height:36px;">Laboratory of Photonics and Interfaces (LPI)</div>
</body></html>
